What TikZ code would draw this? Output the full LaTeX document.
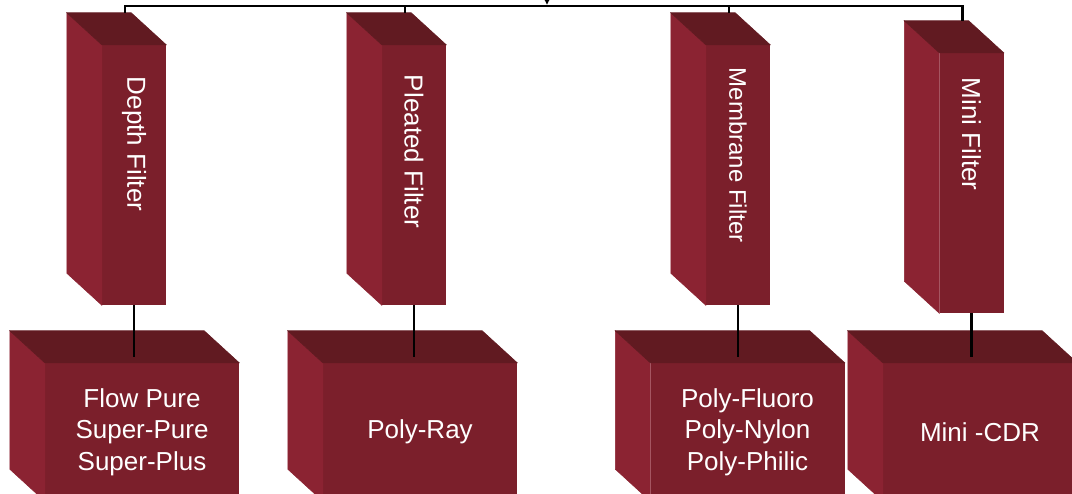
\documentclass[tikz,border=0pt]{standalone}
\usepackage{fontspec}
\setmainfont{Liberation Sans}
\usetikzlibrary{arrows.meta,calc}
\definecolor{frontred}{RGB}{123,31,43}
\definecolor{sidered}{RGB}{139,35,50}
\definecolor{topred}{RGB}{97,26,33}
\tikzset{face/.style={fill=frontred, inner sep=0pt, text=white},
  post/.style={face, minimum width=64pt, minimum height=260pt},
  block/.style={face, minimum width=194pt, minimum height=138pt, align=center, font=\fontsize{26}{31.5}\selectfont},
  vlabel/.style={text=white, rotate=-90, anchor=west, inner sep=0pt, font=\fontsize{26}{31}\selectfont},
  link/.style={draw, line width=2.8pt}}

\begin{document}
\begin{tikzpicture}[x=1pt,y=1pt]
\useasboundingbox (0,0) rectangle (1072,494);
\clip (0,0) rectangle (1072,494);

\node[post] (depth) at (134,319) {};
\node[post] (pleated) at (414,319) {};
\node[post] (membrane) at (738,319) {};
\node[post] (mini) at (971.5,311) {};

\node[block] (flow) at (142,62) {Flow Pure\\Super-Pure\\Super-Plus};
\node[block] (ray) at (420,62) {Poly-Ray};
\node[block] (fluoro) at (747.5,62) {Poly-Fluoro\\Poly-Nylon\\Poly-Philic};
\node[block] (cdr) at (980,62) {Mini -CDR};

\foreach \n in {depth,pleated,membrane,mini,flow,ray,fluoro,cdr}{
  \filldraw[sidered, line width=0.6pt] (\n.north west) -- ++(-35,32) -- ($(\n.south west)+(-35,32)$) -- (\n.south west) -- cycle;
  \filldraw[topred, line width=0.6pt] (\n.north west) -- ++(-35,32) -- ($(\n.north east)+(-35,32)$) -- (\n.north east) -- cycle;
}

\node[vlabel] (depthtxt) at ([yshift=-32pt]depth.north) {Depth Filter};
\node[vlabel] (pleatedtxt) at ([yshift=-30pt]pleated.north) {Pleated Filter};
\node[vlabel, font=\fontsize{24}{29}\selectfont] (membranetxt) at ([yshift=-23pt]membrane.north) {Membrane Filter};
\node[vlabel] (minitxt) at ([yshift=-25pt]mini.north) {Mini Filter};

\coordinate (bus) at (547,488);
\coordinate (in) at (547,510);
\coordinate (d1) at ([xshift=-9pt,yshift=32pt]depth.north);
\coordinate (d2) at ([xshift=-9pt,yshift=32pt]pleated.north);
\coordinate (d3) at ([xshift=-9pt,yshift=32pt]membrane.north);
\coordinate (d4) at ([xshift=-9pt,yshift=32pt]mini.north);

\draw[link] (d1) |- (bus) -| (d4);
\draw[link] (d2) -- (d2 |- bus);
\draw[link] (d3) -- (d3 |- bus);
\draw[link, -{Latex[length=7pt,width=8pt]}] (in) -- ([yshift=1pt]bus);

\draw[link, shorten >=6pt] (depth.south) -- (depth.south |- flow.north);
\draw[link, shorten >=6pt] (pleated.south) -- (pleated.south |- ray.north);
\draw[link, shorten >=6pt] (membrane.south) -- (membrane.south |- fluoro.north);
\draw[link, shorten >=6pt] (mini.south) -- (mini.south |- cdr.north);
\end{tikzpicture}
\end{document}
